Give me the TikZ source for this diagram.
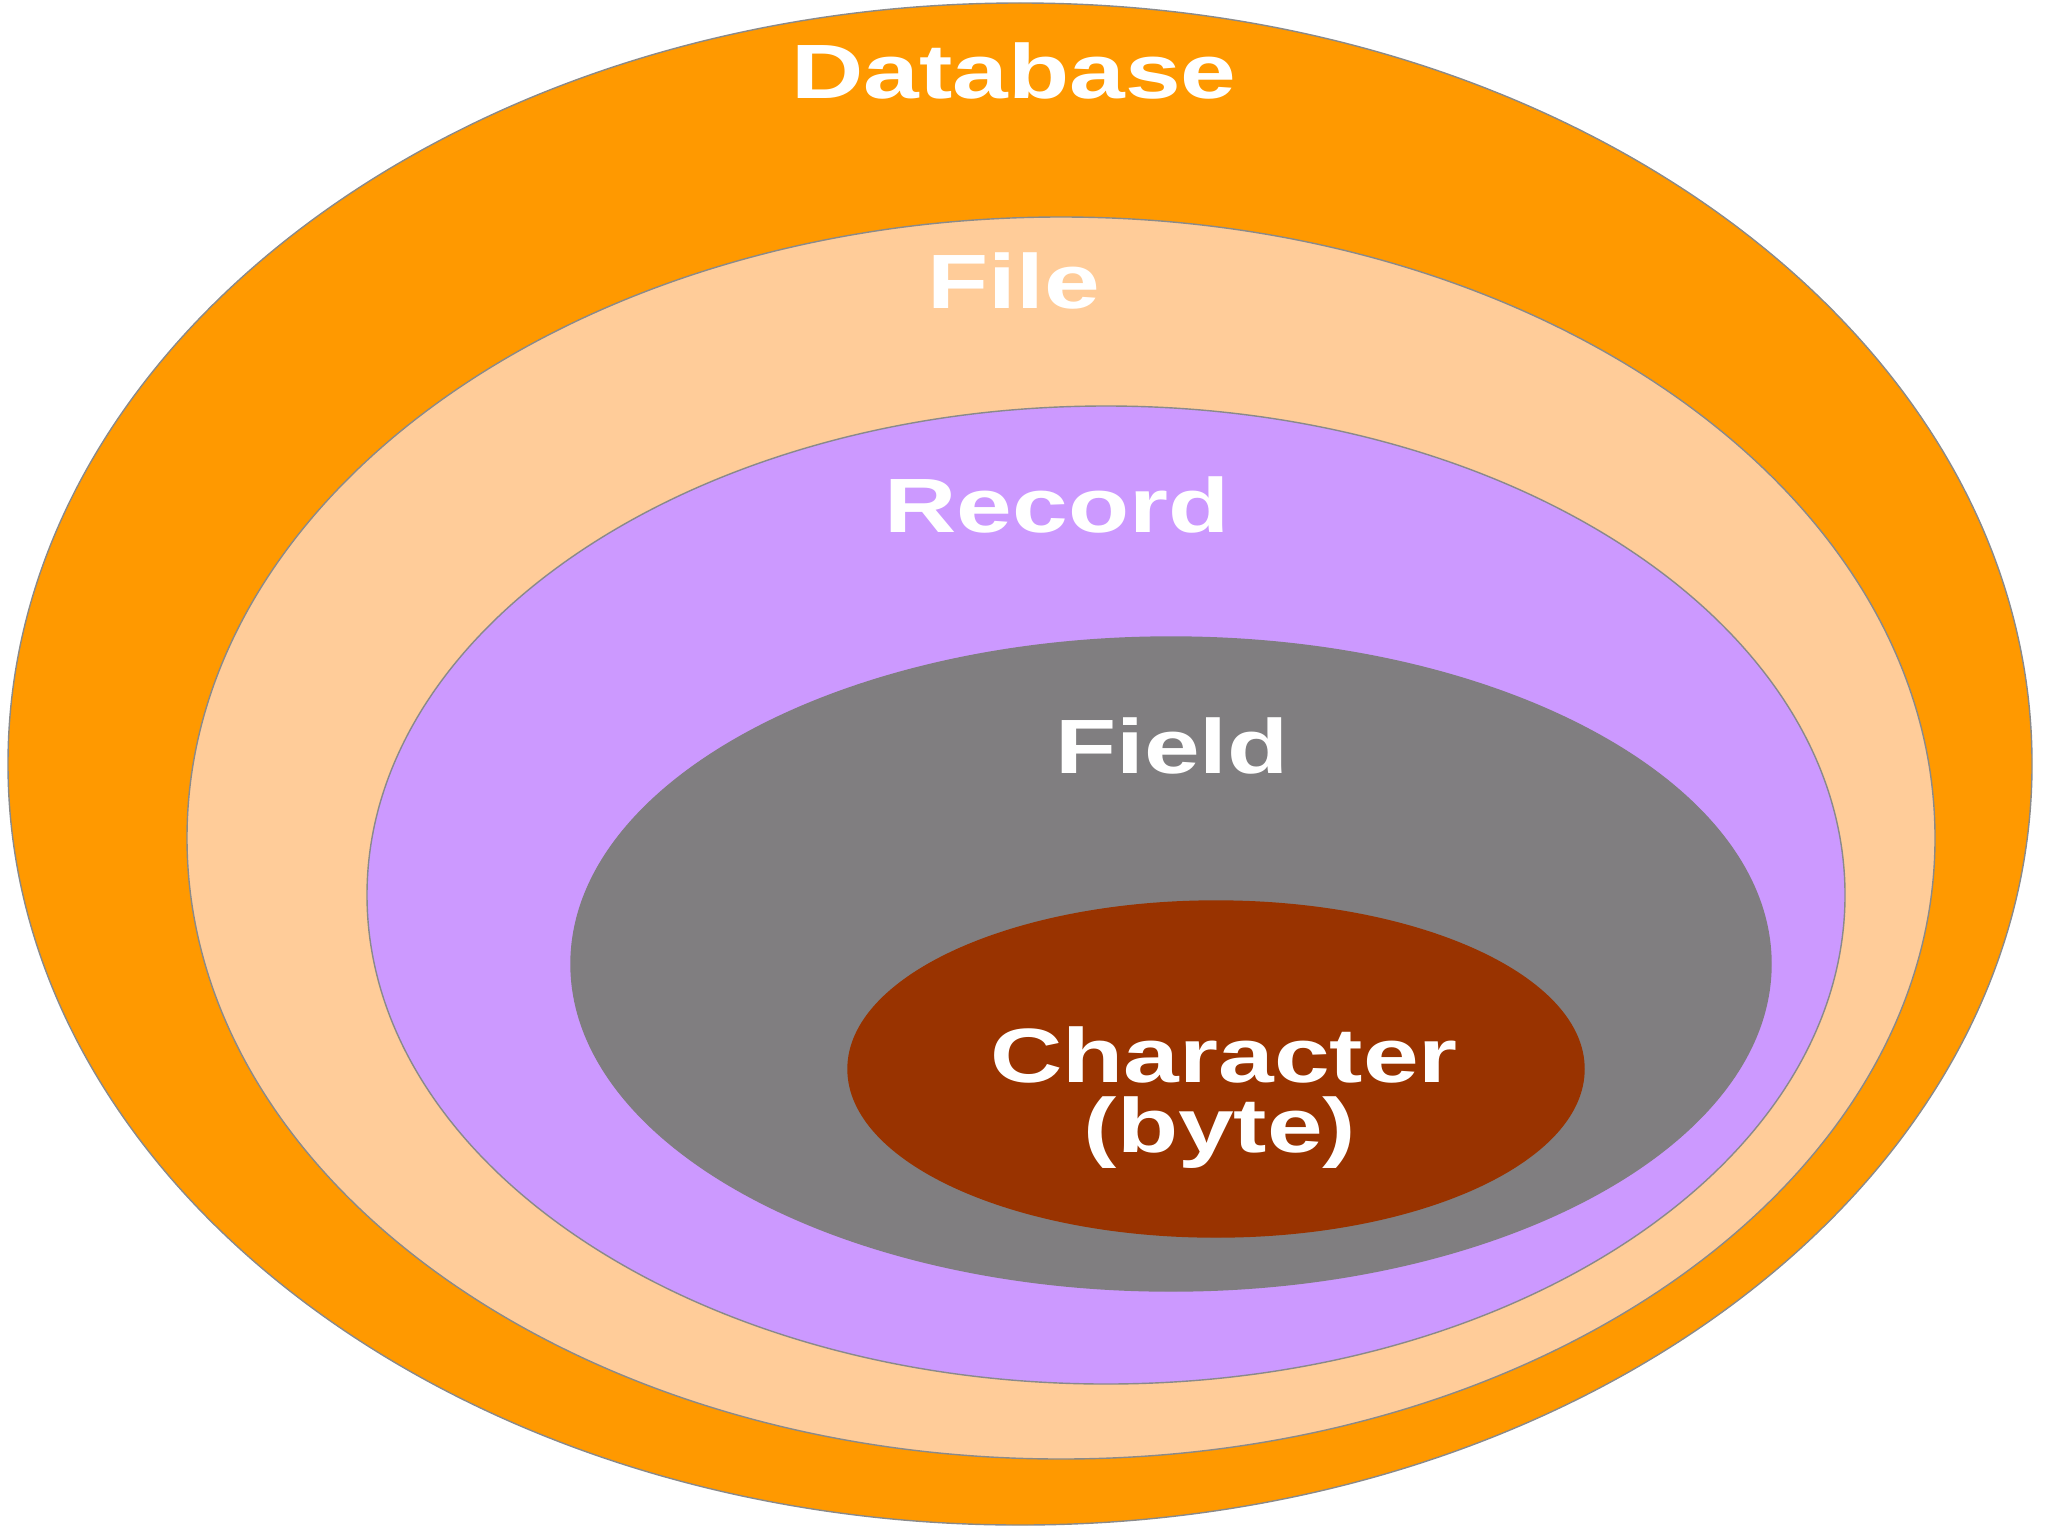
\documentclass[tikz,border=0pt]{standalone}
\usepackage{fontspec}
\setmainfont{Liberation Sans}
\definecolor{dbcol}{HTML}{FF9900}
\definecolor{filecol}{HTML}{FFCC99}
\definecolor{reccol}{HTML}{CC99FF}
\definecolor{fieldcol}{HTML}{807E80}
\definecolor{charcol}{HTML}{993300}
\definecolor{rimcol}{HTML}{8A8A8A}
\begin{document}
\begin{tikzpicture}[x=0.5pt,y=-0.5pt]
\tikzset{
  ring/.style={draw=rimcol, line width=0.7pt},
  lbl/.style={text=white, font=\fontsize{38.5}{37}\selectfont\bfseries, inner sep=0pt, anchor=base}
}
\useasboundingbox (0,0) rectangle (2048,1536);
\fill[white] (0,0) rectangle (2048,1536);
\draw[ring, fill=dbcol] (1020,764) ellipse [x radius=1012, y radius=761];
\draw[ring, fill=filecol] (1061,838) ellipse [x radius=874, y radius=621];
\draw[ring, fill=reccol] (1106,895) ellipse [x radius=739, y radius=489];
\draw[ring, fill=fieldcol, draw=fieldcol] (1171,964) ellipse [x radius=600, y radius=327];
\draw[ring, fill=charcol, draw=charcol] (1216,1069) ellipse [x radius=368, y radius=168];
\node[lbl] (db) at (1014,98) {\scalebox{1.3}[1]{Database}};
\node[lbl] (file) at (1014,308) {\scalebox{1.3}[1]{File}};
\node[lbl] (rec) at (1057,532) {\scalebox{1.3}[1]{Record}};
\node[lbl] (field) at (1172,773) {\scalebox{1.3}[1]{Field}};
\node[lbl] (char) at (1224,1082) {\scalebox{1.3}[1]{Character}};
\node[lbl] (byte) at (1220,1152) {\scalebox{1.3}[1]{(byte)}};
\end{tikzpicture}
\end{document}
